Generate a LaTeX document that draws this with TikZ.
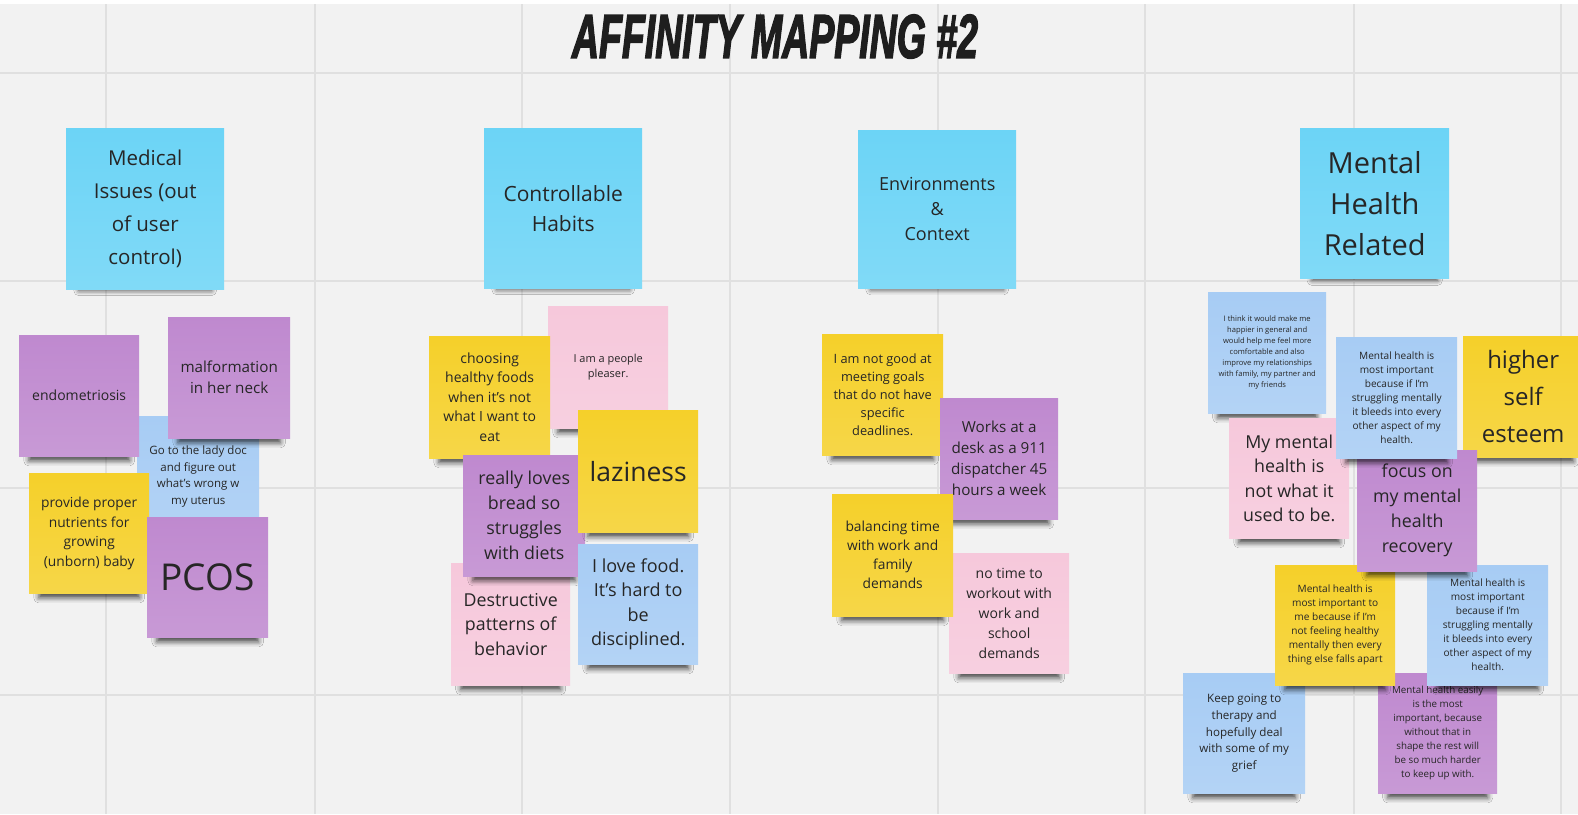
\documentclass[tikz,border=0pt]{standalone}
\usepackage{fontspec}
\setmainfont{Open Sans}
\newfontfamily\titlefont[FakeBold=3]{Liberation Sans}
\usetikzlibrary{shadows.blur}

\definecolor{board}{HTML}{F2F2F2}
\definecolor{gridc}{HTML}{E0E0E0}
\definecolor{ncyan}{HTML}{6CD4F6}
\definecolor{npurple}{HTML}{BF89CF}
\definecolor{nblue}{HTML}{A7CCF4}
\definecolor{nyellow}{HTML}{F5D02A}
\definecolor{npink}{HTML}{F6C8DB}
\definecolor{ink}{HTML}{262626}
\newcommand{\nfs}[2]{\fontsize{#1}{#2}\selectfont}

\begin{document}
\begin{tikzpicture}[x=1pt,y=-1pt,
  sticky/.style={anchor=north west, inner sep=0pt, align=center, text=ink,
    top color=#1, bottom color=#1!86!white,
    blur shadow={shadow xshift=0pt, shadow yshift=-17pt, shadow scale=0.84,
                 shadow blur radius=6pt, shadow opacity=70}},
  sz/.style 2 args={minimum width=#1pt, minimum height=#2pt},
  cyannote/.style={sticky=ncyan},
  purplenote/.style={sticky=npurple},
  bluenote/.style={sticky=nblue},
  yellownote/.style={sticky=nyellow},
  pinknote/.style={sticky=npink},
  gridline/.style={draw=gridc, line width=1.4pt}
]
% board and grid
\fill[board] (0,0) rectangle (1578,814);
\fill[white] (0,0) rectangle (1578,4);
\useasboundingbox (0,0) rectangle (1578,814);
\foreach \gx in {106,315,522,730,938,1145,1354,1561}
  \draw[gridline] (\gx,4) -- (\gx,814);
\foreach \gy in {73,281,488,695}
  \draw[gridline] (0,\gy) -- (1578,\gy);

% title
\node[text=ink!80!black] (title) at (775,36.5)
  {\resizebox{406pt}{43pt}{\titlefont\bfseries\itshape AFFINITY MAPPING \#2}};

% column headers
\node[cyannote, sz={158}{161}, font=\nfs{20.5}{33}] (hmed) at (66,128)
  {Medical\\Issues (out\\of user\\control)};
\node[cyannote, sz={158}{160}, font=\nfs{21}{30}] (hctl) at (484,128)
  {Controllable\\Habits};
\node[cyannote, sz={158}{158}, font=\nfs{18}{25}] (henv) at (858,130)
  {Environments\\\&\\Context};
\node[cyannote, sz={149}{150}, font=\nfs{29}{41}] (hmh) at (1300,128)
  {Mental\\Health\\Related};

% medical issues
\node[bluenote, sz={122}{121}, font=\nfs{11.5}{16.5}] (lady) at (137,416)
  {Go to the lady doc\\and figure out\\what's wrong w\\my uterus};
\node[purplenote, sz={120}{121}, font=\nfs{14}{19}] (endo) at (19,335)
  {endometriosis};
\node[purplenote, sz={122}{121}, font=\nfs{15.2}{21}] (malf) at (168,317)
  {malformation\\in her neck};
\node[yellownote, sz={120}{120}, font=\nfs{13.8}{19.5}] (prov) at (29,473)
  {provide proper\\nutrients for\\growing\\(unborn) baby};
\node[purplenote, sz={121}{120}, font=\nfs{37}{44}] (pcos) at (147,517)
  {PCOS};

% controllable habits
\node[pinknote, sz={120}{122}, font=\nfs{11}{15}] (pleaser) at (548,306)
  {I am a people\\pleaser.};
\node[yellownote, sz={121}{122}, font=\nfs{14}{19.5}] (choose) at (429,336)
  {choosing\\healthy foods\\when it's not\\what I want to\\eat};
\node[pinknote, sz={119}{122}, font=\nfs{17.8}{24.5}] (destr) at (451,563)
  {Destructive\\patterns of\\behavior};
\node[purplenote, sz={122}{121}, font=\nfs{17.8}{25}] (bread) at (463,455)
  {really loves\\bread so\\struggles\\with diets};
\node[yellownote, sz={120}{122}, font=\nfs{26.5}{32}] (lazy) at (578,410)
  {laziness};
\node[bluenote, sz={120}{120}, font=\nfs{18}{24.5}] (food) at (578,544)
  {I love food.\\It's hard to\\be\\disciplined.};

% environments & context
\node[pinknote, sz={120}{120}, font=\nfs{14}{20}] (notime) at (949,553)
  {no time to\\workout with\\work and\\school\\demands};
\node[yellownote, sz={121}{121}, font=\nfs{12.8}{18}] (goals) at (822,334)
  {I am not good at\\meeting goals\\that do not have\\specific\\deadlines.};
\node[purplenote, sz={118}{121}, font=\nfs{15.2}{21}] (works) at (940,398)
  {Works at a\\desk as a 911\\dispatcher 45\\hours a week};
\node[yellownote, sz={121}{122}, font=\nfs{13.8}{19}] (balance) at (832,494)
  {balancing time\\with work and\\family\\demands};

% mental health related
\node[bluenote, sz={118}{121}, font=\nfs{7.6}{11}] (think) at (1208,292)
  {I think it would make me\\happier in general and\\would help me feel more\\comfortable and also\\improve my relationships\\with family, my partner and\\my friends};
\node[pinknote, sz={120}{120}, font=\nfs{17.8}{24.5}] (mymh) at (1229,418)
  {My mental\\health is\\not what it\\used to be.};
\node[yellownote, sz={120}{121}, font=\nfs{24}{37}] (esteem) at (1463,336)
  {higher\\self\\esteem};
\node[bluenote, sz={122}{120}, font=\nfs{11.6}{16.7}] (therapy) at (1183,673)
  {Keep going to\\therapy and\\hopefully deal\\with some of my\\grief};
\node[purplenote, sz={119}{120}, font=\nfs{9.8}{14}] (easily) at (1378,673)
  {Mental health easily\\is the most\\important, because\\without that in\\shape the rest will\\be so much harder\\to keep up with.};
\node[yellownote, sz={120}{120}, font=\nfs{10.1}{14}] (tome) at (1275,565)
  {Mental health is\\most important to\\me because if I'm\\not feeling healthy\\mentally then every\\thing else falls apart};
\node[bluenote, sz={121}{120}, font=\nfs{10.1}{14}] (bleedsb) at (1427,565)
  {Mental health is\\most important\\because if I'm\\struggling mentally\\it bleeds into every\\other aspect of my\\health.};
\node[purplenote, sz={120}{121}, font=\nfs{17.8}{25}] (focus) at (1357,450)
  {focus on\\my mental\\health\\recovery};
\node[bluenote, sz={121}{121}, font=\nfs{10.1}{14}] (bleedsa) at (1336,337)
  {Mental health is\\most important\\because if I'm\\struggling mentally\\it bleeds into every\\other aspect of my\\health.};
\end{tikzpicture}
\end{document}
